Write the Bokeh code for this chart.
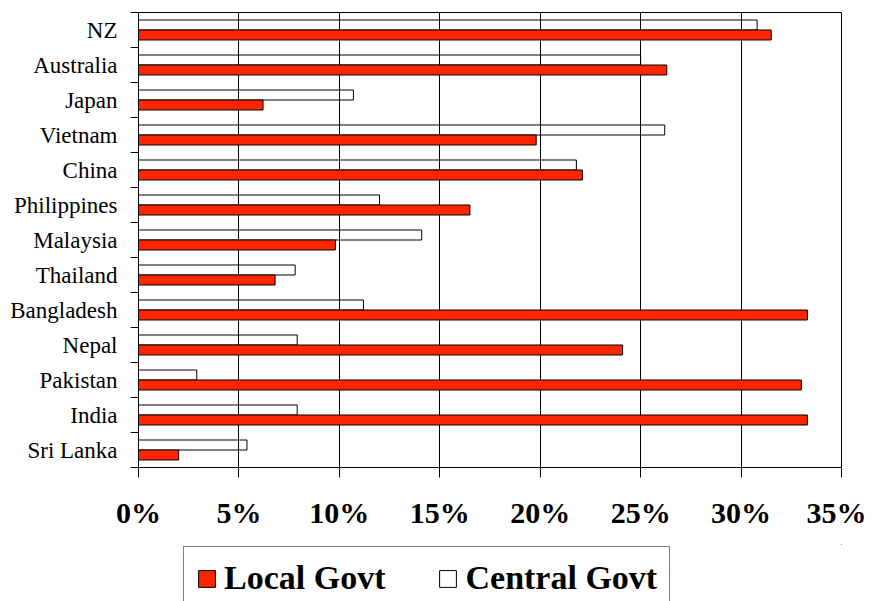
from bokeh.plotting import figure
from bokeh.models import ColumnDataSource, Range1d, FixedTicker, Legend, LegendItem
from bokeh.layouts import column
from bokeh.embed import file_html
from bokeh.resources import INLINE

countries = ["NZ", "Australia", "Japan", "Vietnam", "China", "Philippines", "Malaysia",
             "Thailand", "Bangladesh", "Nepal", "Pakistan", "India", "Sri Lanka"]
local_govt = [31.5, 26.3, 6.2, 19.8, 22.1, 16.5, 9.8, 6.8, 33.3, 24.1, 33.0, 33.3, 2.0]
central_govt = [30.8, 25.0, 10.7, 26.2, 21.8, 12.0, 14.1, 7.8, 11.2, 7.9, 2.9, 7.9, 5.4]
x_ticks = [0, 5, 10, 15, 20, 25, 30, 35]
x_tick_labels = ["0%", "5%", "10%", "15%", "20%", "25%", "30%", "35%"]
series_names = ["Local Govt", "Central Govt"]
local_color = "#FF2600"

n = len(countries)
centers = [n - i - 0.5 for i in range(n)]
bar_h = 0.2857
src = ColumnDataSource(dict(
    country=countries,
    local=local_govt,
    central=central_govt,
    y_local=[c - bar_h / 2 for c in centers],
    y_central=[c + bar_h / 2 for c in centers],
))

p = figure(width=866, height=544, output_backend="svg", toolbar_location=None,
           x_range=Range1d(0, 35), y_range=Range1d(0, n),
           min_border_left=138, min_border_right=25, min_border_top=12, min_border_bottom=77)
p.background_fill_color = "white"
p.border_fill_color = "white"
p.outline_line_color = "black"
p.outline_line_width = 1

# grid
p.ygrid.visible = False
p.xgrid.ticker = FixedTicker(ticks=x_ticks)
p.xgrid.grid_line_color = "black"
p.xgrid.grid_line_width = 1

p.hbar(y="y_central", right="central", left=0, height=bar_h, source=src,
       fill_color="white", fill_alpha=0.0, line_color="black", line_width=1)
p.hbar(y="y_local", right="local", left=0, height=bar_h, source=src,
       fill_color=local_color, line_color="black", line_width=1)

# x axis
xa = p.xaxis[0]
xa.ticker = FixedTicker(ticks=x_ticks)
xa.major_label_overrides = {t: l for t, l in zip(x_ticks, x_tick_labels)}
xa.major_label_text_font = "Liberation Serif"
xa.major_label_text_font_style = "bold"
xa.major_label_text_font_size = "30px"
xa.major_label_text_color = "black"
xa.major_tick_out = 10
xa.major_tick_in = 0
xa.minor_tick_line_color = None
xa.axis_line_color = "black"
xa.major_tick_line_color = "black"
xa.major_label_standoff = 18

# y axis
ya = p.yaxis[0]
ya.ticker = FixedTicker(ticks=centers, minor_ticks=list(range(0, n + 1)))
ya.major_label_overrides = {c: name for c, name in zip(centers, countries)}
ya.major_label_text_font = "Liberation Serif"
ya.major_label_text_font_size = "23px"
ya.major_label_text_color = "black"
ya.major_tick_line_color = None
ya.major_tick_out = 0
ya.major_tick_in = 0
ya.minor_tick_line_color = "black"
ya.minor_tick_out = 8
ya.minor_tick_in = 0
ya.axis_line_color = "black"
ya.major_label_standoff = 13

# legend strip below the chart (its key glyphs sit outside its visible range)
pl = figure(width=866, height=57, output_backend="svg", toolbar_location=None,
            x_range=Range1d(0, 1), y_range=Range1d(0, 1),
            x_axis_type=None, y_axis_type=None,
            min_border_left=138, min_border_right=25, min_border_top=0, min_border_bottom=0)
pl.outline_line_color = None
pl.xgrid.visible = False
pl.ygrid.visible = False
pl.background_fill_color = "white"
pl.border_fill_color = "white"
lr_local = pl.hbar(y=[5], right=[6], left=[5], height=0.5,
                   fill_color=local_color, line_color="black", line_width=1)
lr_central = pl.hbar(y=[5], right=[6], left=[5], height=0.5,
                     fill_color="white", line_color="black", line_width=1)

legend = Legend(items=[LegendItem(label=series_names[0], renderers=[lr_local]),
                       LegendItem(label=series_names[1], renderers=[lr_central])],
                orientation="horizontal", location=(45, -9))
legend.label_text_font = "Liberation Serif"
legend.label_text_font_style = "bold"
legend.label_text_font_size = "34px"
legend.label_text_color = "black"
legend.glyph_width = 21
legend.glyph_height = 21
legend.label_standoff = 7
legend.spacing = 52
legend.padding = 12
legend.margin = 0
legend.border_line_color = "black"
legend.border_line_width = 1
legend.background_fill_color = "white"
legend.background_fill_alpha = 1.0
pl.add_layout(legend, "center")

layout = column(p, pl, spacing=0)
open("out.html", "w").write(file_html(layout, INLINE))
